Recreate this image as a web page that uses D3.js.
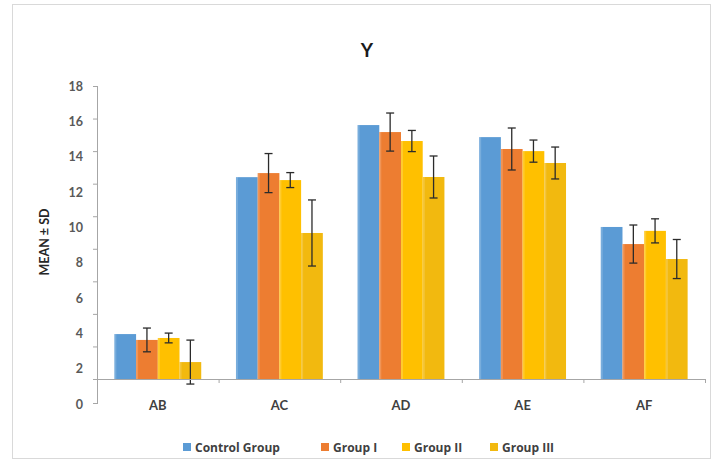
<!DOCTYPE html>
<html>
<head>
<meta charset="utf-8">
<script src="https://cdn.jsdelivr.net/npm/d3@7"></script>
<style>
  html, body { margin: 0; padding: 0; background: #fff; }
  svg { display: block; font-family: Lato, "Open Sans", sans-serif; }
</style>
</head>
<body>
<svg id="chart" width="712" height="465"></svg>
<script>
// Parameters measured for each group
const categories = ["AB", "AC", "AD", "AE", "AF"];
const seriesNames = ["Control Group", "Group I", "Group II", "Group III"];
const controlMean = [2.76, 12.4, 15.6, 14.86, 9.34];
const group1Mean  = [2.4, 12.65, 15.17, 14.13, 8.29];
const group1Sd    = [0.73, 1.2, 1.17, 1.29, 1.17];
const group2Mean  = [2.52, 12.22, 14.62, 14.0, 9.1];
const group2Sd    = [0.3, 0.46, 0.65, 0.68, 0.74];
const group3Mean  = [1.04, 8.97, 12.41, 13.27, 7.37];
const group3Sd    = [1.35, 2.03, 1.29, 0.98, 1.2];
const yTicks = [0, 2, 4, 6, 8, 10, 12, 14, 16, 18];

const colors = ["#5B9BD5", "#ED7D31", "#FFC000", "#F2B90F"];

const means = [controlMean, group1Mean, group2Mean, group3Mean];
const sds = [null, group1Sd, group2Sd, group3Sd];

const svg = d3.select("#chart");

// chart frame
svg.append("rect")
  .attr("x", 12.5).attr("y", 4.5)
  .attr("width", 698).attr("height", 454)
  .attr("fill", "#fff").attr("stroke", "#d9d9d9").attr("stroke-width", 1);

const plot = { left: 97, right: 705, top: 86, bottom: 379 };

const x0 = d3.scaleBand().domain(categories).range([plot.left, plot.right]).padding(0);
const x1 = d3.scaleBand().domain(seriesNames).range([0, x0.bandwidth()])
  .paddingInner(0).paddingOuter(0.8);
const y = d3.scaleLinear().domain([0, 18]).range([plot.bottom, plot.top]);
// tick label column of the value axis
const yLabel = d3.scaleLinear().domain([0, 18]).range([404, 86]);

// value axis: tick marks
const yAxisG = svg.append("g")
  .attr("transform", `translate(${plot.left},0)`)
  .call(d3.axisLeft(y).tickValues(yTicks).tickFormat("").tickSize(4).tickSizeOuter(0));
yAxisG.select(".domain").remove();
yAxisG.selectAll(".tick line").attr("stroke", "#a6a6a6");
svg.append("line")
  .attr("x1", plot.left + 0.5).attr("x2", plot.left + 0.5)
  .attr("y1", plot.top).attr("y2", 404)
  .attr("stroke", "#a6a6a6");
svg.append("line")
  .attr("x1", plot.left - 4).attr("x2", plot.left)
  .attr("y1", 403.5).attr("y2", 403.5)
  .attr("stroke", "#a6a6a6");

// value axis: labels
const yLabG = svg.append("g")
  .attr("transform", `translate(${plot.left - 14},0)`)
  .call(d3.axisLeft(yLabel).tickValues(yTicks).tickSize(0).tickPadding(0));
yLabG.select(".domain").remove();
yLabG.selectAll("text")
  .attr("fill", "#595959")
  .style("font-size", "12.5px")
  .style("font-weight", "bold")
  .style("font-family", "Lato, 'Open Sans', sans-serif");

// bars
const groups = svg.append("g").selectAll("g")
  .data(categories)
  .join("g")
  .attr("transform", d => `translate(${x0(d)},0)`);

groups.each(function (cat, ci) {
  const g = d3.select(this);
  seriesNames.forEach((s, si) => {
    const v = means[si][ci];
    g.append("rect")
      .attr("x", x1(s))
      .attr("y", y(v))
      .attr("width", x1.bandwidth())
      .attr("height", y(0) - y(v))
      .attr("fill", colors[si]);
    // light left edge of each bar
    g.append("rect")
      .attr("x", x1(s))
      .attr("y", y(v))
      .attr("width", 2)
      .attr("height", y(0) - y(v))
      .attr("fill", "#fff").attr("opacity", 0.18);
  });
  // error bars
  seriesNames.forEach((s, si) => {
    if (!sds[si]) return;
    const v = means[si][ci], e = sds[si][ci];
    const cx = x1(s) + x1.bandwidth() / 2;
    const eg = g.append("g").attr("stroke", "#2b2b2b").attr("stroke-width", 1.3);
    eg.append("line").attr("x1", cx).attr("x2", cx).attr("y1", y(v + e)).attr("y2", y(v - e));
    eg.append("line").attr("x1", cx - 4).attr("x2", cx + 4).attr("y1", y(v + e)).attr("y2", y(v + e));
    eg.append("line").attr("x1", cx - 4).attr("x2", cx + 4).attr("y1", y(v - e)).attr("y2", y(v - e));
  });
});

// category axis
const xAxisG = svg.append("g")
  .attr("transform", `translate(0,${plot.bottom})`)
  .call(d3.axisBottom(x0).tickSize(0).tickPadding(22));
xAxisG.select(".domain").attr("stroke", "#a6a6a6");
xAxisG.selectAll("text")
  .attr("fill", "#404040")
  .style("font-size", "13px")
  .style("font-weight", "bold")
  .style("font-family", "Lato, 'Open Sans', sans-serif");
// boundary ticks between categories
svg.append("g").selectAll("line")
  .data(categories)
  .join("line")
  .attr("x1", d => x0(d) + x0.bandwidth() + 0.5)
  .attr("x2", d => x0(d) + x0.bandwidth() + 0.5)
  .attr("y1", plot.bottom).attr("y2", plot.bottom + 4)
  .attr("stroke", "#a6a6a6");

// title
svg.append("text")
  .attr("x", 367).attr("y", 57)
  .attr("text-anchor", "middle")
  .attr("fill", "#1a1a1a")
  .style("font-size", "19px")
  .style("font-weight", "bold")
  .text("Y");

// value axis title
svg.append("text")
  .attr("transform", "translate(49,242) rotate(-90)")
  .attr("text-anchor", "middle")
  .attr("fill", "#262626")
  .style("font-size", "12.5px")
  .style("font-weight", "bold")
  .text("MEAN ± SD");

// legend
const legendX = [183, 321, 402, 490];
const legend = svg.append("g").selectAll("g")
  .data(seriesNames)
  .join("g")
  .attr("transform", (d, i) => `translate(${legendX[i]},447)`);
legend.append("rect")
  .attr("x", 0).attr("y", -4)
  .attr("width", 8).attr("height", 8)
  .attr("fill", (d, i) => colors[i]);
legend.append("text")
  .attr("x", 12).attr("y", 4.5)
  .attr("fill", "#404040")
  .style("font-size", "12px")
  .style("font-weight", "bold")
  .style("font-family", "'Open Sans', sans-serif")
  .text(d => d);
</script>
</body>
</html>
